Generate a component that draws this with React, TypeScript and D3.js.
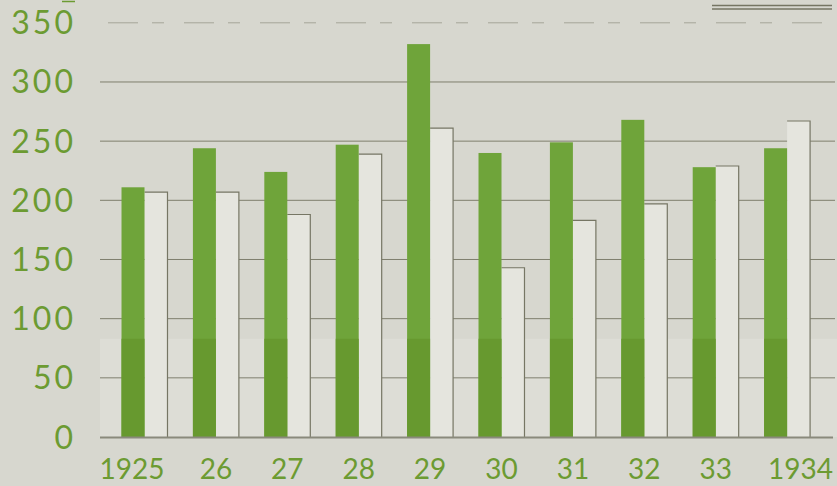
import React from "react";
import * as d3 from "d3";

const years = ["1925", "1926", "1927", "1928", "1929", "1930", "1931", "1932", "1933", "1934"];
const xLabels = ["1925", "26", "27", "28", "29", "30", "31", "32", "33", "1934"];
const greenValues = [211, 244, 224, 247, 332, 240, 249, 268, 228, 244];
const whiteValues = [207, 207, 188, 239, 261, 143, 183, 197, 229, 267];
const yTicks = [0, 50, 100, 150, 200, 250, 300, 350];
const series = ["green", "white"];

const W = 837;
const H = 486;
const BG = "#d7d7cf";
const GREEN = "#6fa43a";
const GREEN_DARK = "#67992f";
const WHITE = "#e5e5de";
const LINE = "#767664";
const TEXT = "#6c9b32";
const FONT = "Lato, 'Open Sans', sans-serif";

export default function App() {
  const x = d3
    .scaleBand<string>()
    .domain(years)
    .range([108.8, 822.8])
    .paddingInner(0.356)
    .paddingOuter(0.178);
  const x1 = d3.scaleBand<string>().domain(series).range([0, x.bandwidth()]);
  const y = d3.scaleLinear().domain([0, 350]).range([437, 22.8]);
  const bandTop = y(83);

  return (
    <svg
      width={W}
      height={H}
      style={{ position: "absolute", left: 0, top: 0, display: "block" }}
    >
      <rect x={0} y={0} width={W} height={H} fill={BG} />
      {/* lighter lower band (scan tone) */}
      <rect x={100} y={bandTop} width={W - 100} height={y(0) - bandTop} fill="#ffffff" opacity={0.16} />

      {/* cut-off marks at top */}
      <line x1={62} x2={75} y1={1.5} y2={1.5} stroke={TEXT} strokeWidth={1.5} />
      <line x1={712} x2={832} y1={5.5} y2={5.5} stroke={LINE} strokeWidth={1.3} />
      <line x1={712} x2={832} y1={9} y2={9} stroke={LINE} strokeWidth={1.3} />

      {/* gridlines */}
      {yTicks
        .filter((t) => t > 0)
        .map((t) => (
          <line
            key={t}
            x1={t === 350 ? 108 : 100}
            x2={t === 350 ? 830 : 835}
            y1={y(t)}
            y2={y(t)}
            stroke={LINE}
            strokeWidth={1}
            strokeDasharray={t === 350 ? "30 14 12 20" : undefined}
            opacity={t === 350 ? 0.5 : 0.9}
          />
        ))}

      {/* bars */}
      {years.map((yr, i) => {
        const gx = (x(yr) as number) + (x1("green") as number);
        const wx = (x(yr) as number) + (x1("white") as number);
        const bw = x1.bandwidth();
        const gTop = y(greenValues[i]);
        const wTop = y(whiteValues[i]);
        return (
          <g key={yr}>
            <rect x={wx} y={wTop} width={bw} height={y(0) - wTop} fill={WHITE} />
            <path
              d={`M${wx},${wTop} H${wx + bw} V${y(0)}`}
              fill="none"
              stroke={LINE}
              strokeWidth={1.2}
            />
            <rect x={gx} y={gTop} width={bw} height={y(0) - gTop} fill={GREEN} />
            <rect x={gx} y={bandTop} width={bw} height={y(0) - bandTop} fill={GREEN_DARK} />
          </g>
        );
      })}

      {/* baseline */}
      <line x1={100} x2={833} y1={y(0) + 0.5} y2={y(0) + 0.5} stroke="#8a8a7c" strokeWidth={2} />

      {/* y labels */}
      {yTicks.map((t) => (
        <text
          key={t}
          x={76}
          y={y(t)}
          dy="0.36em"
          textAnchor="end"
          fontFamily={FONT}
          fontSize={32}
          letterSpacing={3}
          fill={TEXT}
        >
          {t}
        </text>
      ))}

      {/* x labels */}
      {years.map((yr, i) => {
        const x0 = x(yr) as number;
        const last = i === years.length - 1;
        const first = i === 0;
        const tx = first
          ? x0 + x.bandwidth() - 3
          : last
          ? x0 + x.bandwidth() + 23
          : x0 + x.bandwidth() / 2;
        return (
          <text
            key={yr}
            x={tx}
            y={479}
            textAnchor={first || last ? "end" : "middle"}
            fontFamily={FONT}
            fontSize={28}
            fill={TEXT}
          >
            {xLabels[i]}
          </text>
        );
      })}
    </svg>
  );
}
